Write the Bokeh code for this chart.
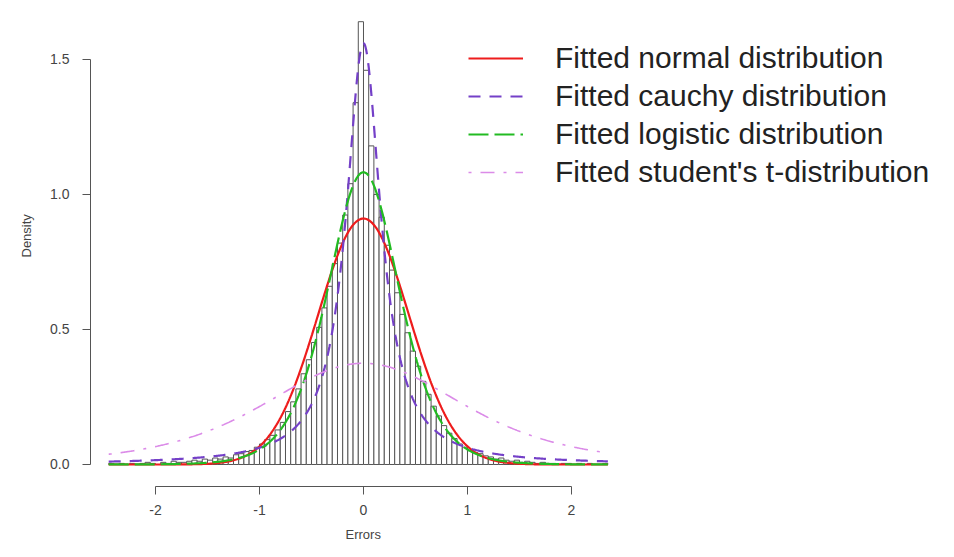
import math
import numpy as np
from bokeh.plotting import figure
from bokeh.models import (Range1d, Legend, LegendItem, FixedTicker,
                          ColumnDataSource, Title)
from bokeh.embed import file_html
from bokeh.resources import INLINE

# ---------------- data ----------------
bin_start = -2.45
bin_width = 0.05
hist_density = [
    0.004, 0.000, 0.004, 0.000, 0.004, 0.000, 0.004, 0.008, 0.004, 0.000,
    0.008, 0.004, 0.012, 0.008, 0.008, 0.012, 0.016, 0.012, 0.020, 0.016,
    0.024, 0.020, 0.028, 0.024, 0.036, 0.040, 0.048, 0.052, 0.064, 0.076,
    0.092, 0.108, 0.128, 0.156, 0.196, 0.232, 0.280, 0.336, 0.388, 0.452,
    0.508, 0.580, 0.660, 0.744, 0.820, 0.924, 1.040, 1.340, 1.640,
    1.460, 1.180, 1.000, 0.916, 0.812, 0.720, 0.636, 0.556, 0.488, 0.420,
    0.364, 0.308, 0.260, 0.216, 0.180, 0.144, 0.116, 0.096, 0.076, 0.064,
    0.052, 0.044, 0.040, 0.032, 0.028, 0.020, 0.024, 0.016, 0.012, 0.016,
    0.008, 0.012, 0.008, 0.004, 0.008, 0.004, 0.004, 0.000, 0.004, 0.004,
    0.000, 0.004, 0.000, 0.004, 0.000, 0.000, 0.004,
]

normal_params = [0.0, 0.438]     # mean, sd
cauchy_params = [0.0, 0.204]     # location, scale
logistic_params = [0.0, 0.231]   # location, scale
student_params = [4.0]           # degrees of freedom
curve_span = [-2.45, 2.35]

x_ticks = [-2, -1, 0, 1, 2]
x_tick_labels = ["-2", "-1", "0", "1", "2"]
y_ticks = [0.0, 0.5, 1.0, 1.5]
y_tick_labels = ["0.0", "0.5", "1.0", "1.5"]
x_title = "Errors"
y_title = "Density"

legend_labels = [
    "Fitted normal distribution",
    "Fitted cauchy distribution",
    "Fitted logistic distribution",
    "Fitted student's t-distribution",
]

# ---------------- derived ----------------
n = len(hist_density)
lefts = [bin_start + i * bin_width for i in range(n)]
rights = [l + bin_width for l in lefts]

xs = np.linspace(curve_span[0], curve_span[1], 600)
mu, sd = normal_params
y_norm = np.exp(-0.5 * ((xs - mu) / sd) ** 2) / (sd * math.sqrt(2 * math.pi))
loc, g = cauchy_params
y_cauchy = g / (math.pi * ((xs - loc) ** 2 + g ** 2))
loc2, s = logistic_params
ez = np.exp(-(xs - loc2) / s)
y_logis = ez / (s * (1 + ez) ** 2)
df = student_params[0]
c = math.gamma((df + 1) / 2) / (math.sqrt(df * math.pi) * math.gamma(df / 2))
y_t = c * (1 + xs ** 2 / df) ** (-(df + 1) / 2)

FONT = "Liberation Sans"

p = figure(width=954, height=557, output_backend="svg", toolbar_location=None,
           x_range=Range1d(-2.625, 5.683), y_range=Range1d(-0.0815, 1.7185),
           min_border_left=90, min_border_right=0, min_border_top=0,
           min_border_bottom=71)
p.outline_line_color = None
p.xgrid.visible = False
p.ygrid.visible = False
p.background_fill_color = "white"
p.border_fill_color = "white"

src = ColumnDataSource(dict(left=lefts, right=rights, top=hist_density,
                            bottom=[0] * n))
p.quad(left="left", right="right", top="top", bottom="bottom", source=src,
       fill_color="white", line_color="#555555", line_width=1)

r_norm = p.line(xs, y_norm, line_color="#EE1C1C", line_width=2.2)
r_cauchy = p.line(xs, y_cauchy, line_color="#7440C8", line_width=2.2,
                  line_dash="12 9")
r_logis = p.line(xs, y_logis, line_color="#22BB22", line_width=2.2,
                 line_dash="20 6")
r_t = p.line(xs, y_t, line_color="#DB8BE8", line_width=1.6,
             line_dash="3 9 14 9")

# axes, R style
for ax in (p.xaxis[0], p.yaxis[0]):
    ax.axis_line_color = "#555555"
    ax.major_tick_line_color = "#555555"
    ax.major_tick_out = 8
    ax.major_tick_in = 0
    ax.minor_tick_line_color = None
    ax.major_label_text_font = FONT
    ax.major_label_text_font_size = "14px"
    ax.major_label_text_color = "#444444"

p.xaxis.ticker = FixedTicker(ticks=x_ticks)
p.xaxis.major_label_overrides = {t: l for t, l in zip(x_ticks, x_tick_labels)}
p.xaxis.bounds = (x_ticks[0], x_ticks[-1])
p.xaxis.major_label_standoff = 10

p.yaxis.ticker = FixedTicker(ticks=y_ticks)
p.yaxis.major_label_overrides = {t: l for t, l in zip(y_ticks, y_tick_labels)}
p.yaxis.bounds = (y_ticks[0], y_ticks[-1])
p.yaxis.major_label_standoff = 13

# axis titles (centred like R, on the plot region) as side-panel titles
p.add_layout(Title(text=x_title, align="left", offset=255, standoff=15,
                   text_font=FONT, text_font_size="13px",
                   text_font_style="normal", text_color="#444444"), "below")
p.add_layout(Title(text=y_title, align="left", offset=229, standoff=27,
                   text_font=FONT, text_font_size="13px",
                   text_font_style="normal", text_color="#444444"), "left")

legend = Legend(items=[
    LegendItem(label=legend_labels[0], renderers=[r_norm]),
    LegendItem(label=legend_labels[1], renderers=[r_cauchy]),
    LegendItem(label=legend_labels[2], renderers=[r_logis]),
    LegendItem(label=legend_labels[3], renderers=[r_t]),
], location=(378, 295))
legend.label_text_font = FONT
legend.label_text_font_size = "30px"
legend.label_text_color = "#222222"
legend.glyph_width = 55
legend.glyph_height = 38
legend.label_height = 38
legend.spacing = 0
legend.padding = 0
legend.margin = 0
legend.label_standoff = 32
legend.border_line_color = None
legend.background_fill_alpha = 0
p.add_layout(legend)

open("out.html", "w").write(file_html(p, INLINE))
